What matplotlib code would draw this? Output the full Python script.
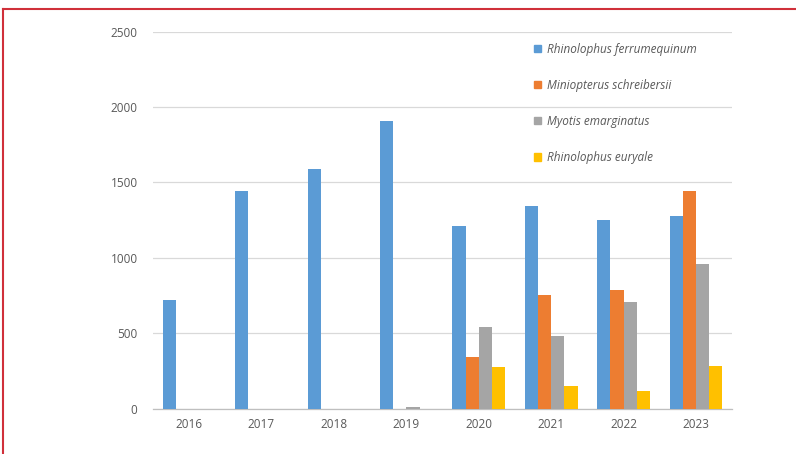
import numpy as np
import matplotlib.pyplot as plt
from matplotlib.patches import Patch
from matplotlib.lines import Line2D

years = ["2016", "2017", "2018", "2019", "2020", "2021", "2022", "2023"]
species = ["Rhinolophus ferrumequinum", "Miniopterus schreibersii",
           "Myotis emarginatus", "Rhinolophus euryale"]
ferrumequinum = [720, 1440, 1590, 1910, 1210, 1340, 1250, 1280]
schreibersii = [0, 0, 0, 0, 342, 755, 786, 1440]
emarginatus = [0, 0, 0, 10, 540, 478, 708, 960]
euryale = [0, 0, 0, 0, 277, 150, 118, 284]
colors = ["#5b9bd5", "#ed7d31", "#a5a5a5", "#ffc000"]

plt.rcParams['font.family'] = ['Open Sans', 'DejaVu Sans']

fig = plt.figure(figsize=(7.96, 4.54), dpi=100)
ax = fig.add_axes([0.192, 0.100, 0.728, 0.8306])

x = np.arange(len(years))
w = 0.182
series = [ferrumequinum, schreibersii, emarginatus, euryale]
for i, (vals, c) in enumerate(zip(series, colors)):
    ax.bar(x + (i - 1.5) * w, vals, w, color=c, zorder=3)

ax.set_xlim(-0.5, len(years) - 0.5)
ax.set_ylim(0, 2500)
ax.set_yticks([0, 500, 1000, 1500, 2000, 2500])
ax.set_xticks(x)
ax.set_xticklabels(years)
ax.grid(axis='y', color='#d9d9d9', linewidth=0.9, zorder=0)
for s in ['top', 'right', 'left']:
    ax.spines[s].set_visible(False)
ax.spines['bottom'].set_color('#bfbfbf')
ax.spines['bottom'].set_linewidth(0.9)
ax.tick_params(axis='both', length=0, labelsize=8.5, labelcolor='#595959')
ax.tick_params(axis='y', pad=11)
ax.tick_params(axis='x', pad=7)

handles = [Patch(color=c) for c in colors]
fig.legend(handles, species, loc='upper left', bbox_to_anchor=(0.658, 0.929),
           frameon=False, labelspacing=1.95,
           handlelength=0.6, handleheight=0.6, handletextpad=0.45,
           prop={'style': 'italic', 'size': 8.5}, labelcolor='#595959')

# red frame (top and left edges)
fig.add_artist(Line2D([0.004, 1.0], [0.980, 0.980], color='#d0303a',
                      linewidth=1.5, transform=fig.transFigure))
fig.add_artist(Line2D([0.004, 0.004], [0.0, 0.980], color='#d0303a',
                      linewidth=1.5, transform=fig.transFigure))

plt.savefig('out.png', dpi=100)
